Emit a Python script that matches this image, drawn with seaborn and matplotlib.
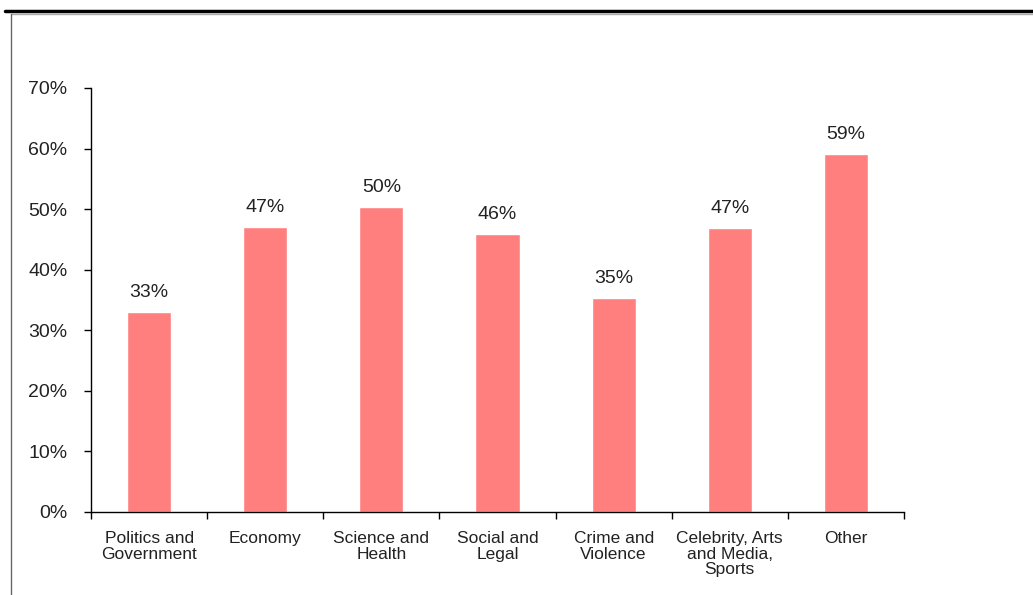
import matplotlib
matplotlib.use("Agg")
import matplotlib.pyplot as plt
import seaborn as sns
import pandas as pd
from matplotlib.lines import Line2D
from matplotlib.ticker import FixedLocator, PercentFormatter

categories = ["Politics and\nGovernment", "Economy", "Science and\nHealth", "Social and\nLegal",
              "Crime and\nViolence", "Celebrity, Arts\nand Media,\nSports", "Other"]
values = [33.0, 47.1, 50.4, 45.9, 35.3, 46.9, 59.1]
labels = ["33%", "47%", "50%", "46%", "35%", "47%", "59%"]

sns.set_theme(style="white")
plt.rcParams['font.family'] = ['Liberation Sans', 'DejaVu Sans']

df = pd.DataFrame({"cat": categories, "val": values})

fig = plt.figure(figsize=(10.33, 5.95), dpi=100)
ax = fig.add_axes([91/1033, 1-512/595, (904-91)/1033, (512-88)/595])

sns.barplot(data=df, x="cat", y="val", color="#FF7F7F", width=0.38, saturation=1, ax=ax)

ax.set_xlim(-0.5, len(categories)-0.5)
ax.set_ylim(0, 70)
ax.set_yticks(range(0, 71, 10))
ax.yaxis.set_major_formatter(PercentFormatter(decimals=0))
ax.tick_params(axis="y", direction="out", length=5, width=1, color="black", pad=12,
               labelsize=14, labelcolor="#222222", left=True)

ax.xaxis.set_major_locator(FixedLocator([i-0.5 for i in range(len(categories)+1)]))
ax.xaxis.set_minor_locator(FixedLocator(list(range(len(categories)))))
ax.set_xticklabels([], minor=False)
ax.set_xticklabels(categories, minor=True, fontsize=12.5, color="#222222", linespacing=1.02)
ax.tick_params(axis="x", which="major", direction="out", length=5, width=1, color="black", bottom=True)
ax.tick_params(axis="x", which="minor", length=0, pad=14)

ax.set_xlabel("")
ax.set_ylabel("")
for s in ["top", "right"]:
    ax.spines[s].set_visible(False)
for s in ["left", "bottom"]:
    ax.spines[s].set_color("black")
    ax.spines[s].set_linewidth(1)

for c in ax.containers:
    ax.bar_label(c, labels=labels, padding=8, fontsize=14, color="#222222")

# outer frame lines
fig.add_artist(Line2D([5/1033, 1], [1-10.5/595, 1-10.5/595], color="black", lw=2.5, transform=fig.transFigure))
fig.add_artist(Line2D([11/1033, 1], [1-13.5/595, 1-13.5/595], color="#aaaaaa", lw=1, transform=fig.transFigure))
fig.add_artist(Line2D([11/1033, 11/1033], [0, 1-13.5/595], color="#666666", lw=1, transform=fig.transFigure))

fig.savefig("out.png", dpi=100)
